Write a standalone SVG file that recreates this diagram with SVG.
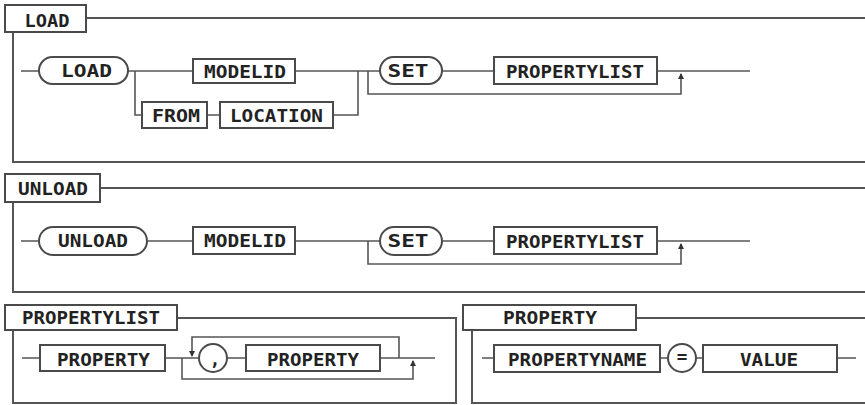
<svg xmlns="http://www.w3.org/2000/svg" width="865" height="405" viewBox="0 0 865 405">
<defs>
<style>
.frame{fill:none;stroke:#555;stroke-width:2}
.box{fill:#fff;stroke:#4a4a4a;stroke-width:2}
.ln{fill:none;stroke:#555;stroke-width:1.6}
text{font-family:"DejaVu Sans Mono","Liberation Mono",monospace;font-weight:bold;font-size:17.5px;fill:#222;text-anchor:middle}
</style>
<marker id="arr" viewBox="0 0 6 6" refX="5" refY="3" markerWidth="6" markerHeight="6" orient="auto" markerUnits="userSpaceOnUse">
<path d="M0,0 L6,3 L0,6 z" fill="#333"/>
</marker>
</defs>
<rect width="865" height="405" fill="#fff"/>

<!-- Frames -->
<g id="frame-load">
<path class="frame" d="M86,18 H866 M13,32 V162 H866"/>
<rect class="box" x="5" y="5" width="81" height="27"/>
<text x="47" y="27" textLength="45" lengthAdjust="spacingAndGlyphs">LOAD</text>
</g>
<g id="frame-unload">
<path class="frame" d="M100,188 H866 M13,202 V292 H866"/>
<rect class="box" x="5" y="174" width="95" height="28"/>
<text x="53" y="195" textLength="70" lengthAdjust="spacingAndGlyphs">UNLOAD</text>
</g>
<g id="frame-propertylist">
<path class="frame" d="M177,318 H456 V403 H13 V330"/>
<rect class="box" x="5" y="305" width="172" height="25"/>
<text x="91" y="324" textLength="138" lengthAdjust="spacingAndGlyphs">PROPERTYLIST</text>
</g>
<g id="frame-property">
<path class="frame" d="M636,318 H866 M472,330 V403 H866"/>
<rect class="box" x="463" y="305" width="173" height="25"/>
<text x="550" y="324" textLength="94" lengthAdjust="spacingAndGlyphs">PROPERTY</text>
</g>

<!-- Connectors -->
<g id="connectors">
<path class="ln" d="M21,71 H39 M128,71 H193 M135,71 V115 H142 M207,115 H220 M333,115 H358 V71 M295,71 H380 M442,71 H494 M657,71 H750"/>
<path class="ln" d="M368,71 V94 H681 V74" marker-end="url(#arr)"/>
<path class="ln" d="M21,241 H39 M147,241 H193 M295,241 H380 M442,241 H494 M657,241 H750"/>
<path class="ln" d="M368,241 V264 H681 V244" marker-end="url(#arr)"/>
<path class="ln" d="M22,358 H40 M165,358 H199 M227,358 H246 M380,358 H435"/>
<path class="ln" d="M182,358 V379 H413 V361" marker-end="url(#arr)"/>
<path class="ln" d="M399,358 V337 H192 V356" marker-end="url(#arr)"/>
<path class="ln" d="M482,358 H494 M660,358 H668 M696,358 H703 M837,358 H856"/>
</g>

<!-- LOAD nodes -->
<g id="load-term"><rect class="box" x="39" y="57" width="89" height="27" rx="13.5"/><text x="86.5" y="77" textLength="51" lengthAdjust="spacingAndGlyphs">LOAD</text></g>
<g id="load-modelid"><rect class="box" x="193" y="59" width="102" height="24"/><text x="245" y="78" textLength="82" lengthAdjust="spacingAndGlyphs">MODELID</text></g>
<g id="load-from"><rect class="box" x="142" y="102" width="65" height="26"/><text x="176" y="122" textLength="48" lengthAdjust="spacingAndGlyphs">FROM</text></g>
<g id="load-location"><rect class="box" x="220" y="102" width="113" height="26"/><text x="276.5" y="122" textLength="93" lengthAdjust="spacingAndGlyphs">LOCATION</text></g>
<g id="load-set"><rect class="box" x="380" y="57" width="62" height="27" rx="13.5"/><text x="408" y="77" textLength="41" lengthAdjust="spacingAndGlyphs">SET</text></g>
<g id="load-propertylist"><rect class="box" x="494" y="57" width="163" height="27"/><text x="575" y="78" textLength="138" lengthAdjust="spacingAndGlyphs">PROPERTYLIST</text></g>

<!-- UNLOAD nodes -->
<g id="unload-term"><rect class="box" x="39" y="227" width="108" height="28" rx="14"/><text x="93" y="247" textLength="70" lengthAdjust="spacingAndGlyphs">UNLOAD</text></g>
<g id="unload-modelid"><rect class="box" x="193" y="227" width="102" height="27"/><text x="245" y="247" textLength="82" lengthAdjust="spacingAndGlyphs">MODELID</text></g>
<g id="unload-set"><rect class="box" x="380" y="227" width="62" height="28" rx="14"/><text x="408" y="247" textLength="41" lengthAdjust="spacingAndGlyphs">SET</text></g>
<g id="unload-propertylist"><rect class="box" x="494" y="227" width="163" height="27"/><text x="575" y="248" textLength="138" lengthAdjust="spacingAndGlyphs">PROPERTYLIST</text></g>

<!-- PROPERTYLIST nodes -->
<g id="pl-property1"><rect class="box" x="40" y="345" width="125" height="26"/><text x="103.5" y="366" textLength="93" lengthAdjust="spacingAndGlyphs">PROPERTY</text></g>
<g id="pl-comma"><circle class="box" cx="213" cy="358" r="14"/><text x="215" y="366" font-size="20">,</text></g>
<g id="pl-property2"><rect class="box" x="246" y="345" width="134" height="26"/><text x="313" y="366" textLength="92" lengthAdjust="spacingAndGlyphs">PROPERTY</text></g>

<!-- PROPERTY nodes -->
<g id="p-propertyname"><rect class="box" x="494" y="345" width="166" height="27"/><text x="577.5" y="366" textLength="139" lengthAdjust="spacingAndGlyphs">PROPERTYNAME</text></g>
<g id="p-equals"><circle class="box" cx="682" cy="358" r="14"/><text x="682" y="363" font-size="14">=</text></g>
<g id="p-value"><rect class="box" x="703" y="345" width="134" height="27"/><text x="769" y="366" textLength="58" lengthAdjust="spacingAndGlyphs">VALUE</text></g>
</svg>
